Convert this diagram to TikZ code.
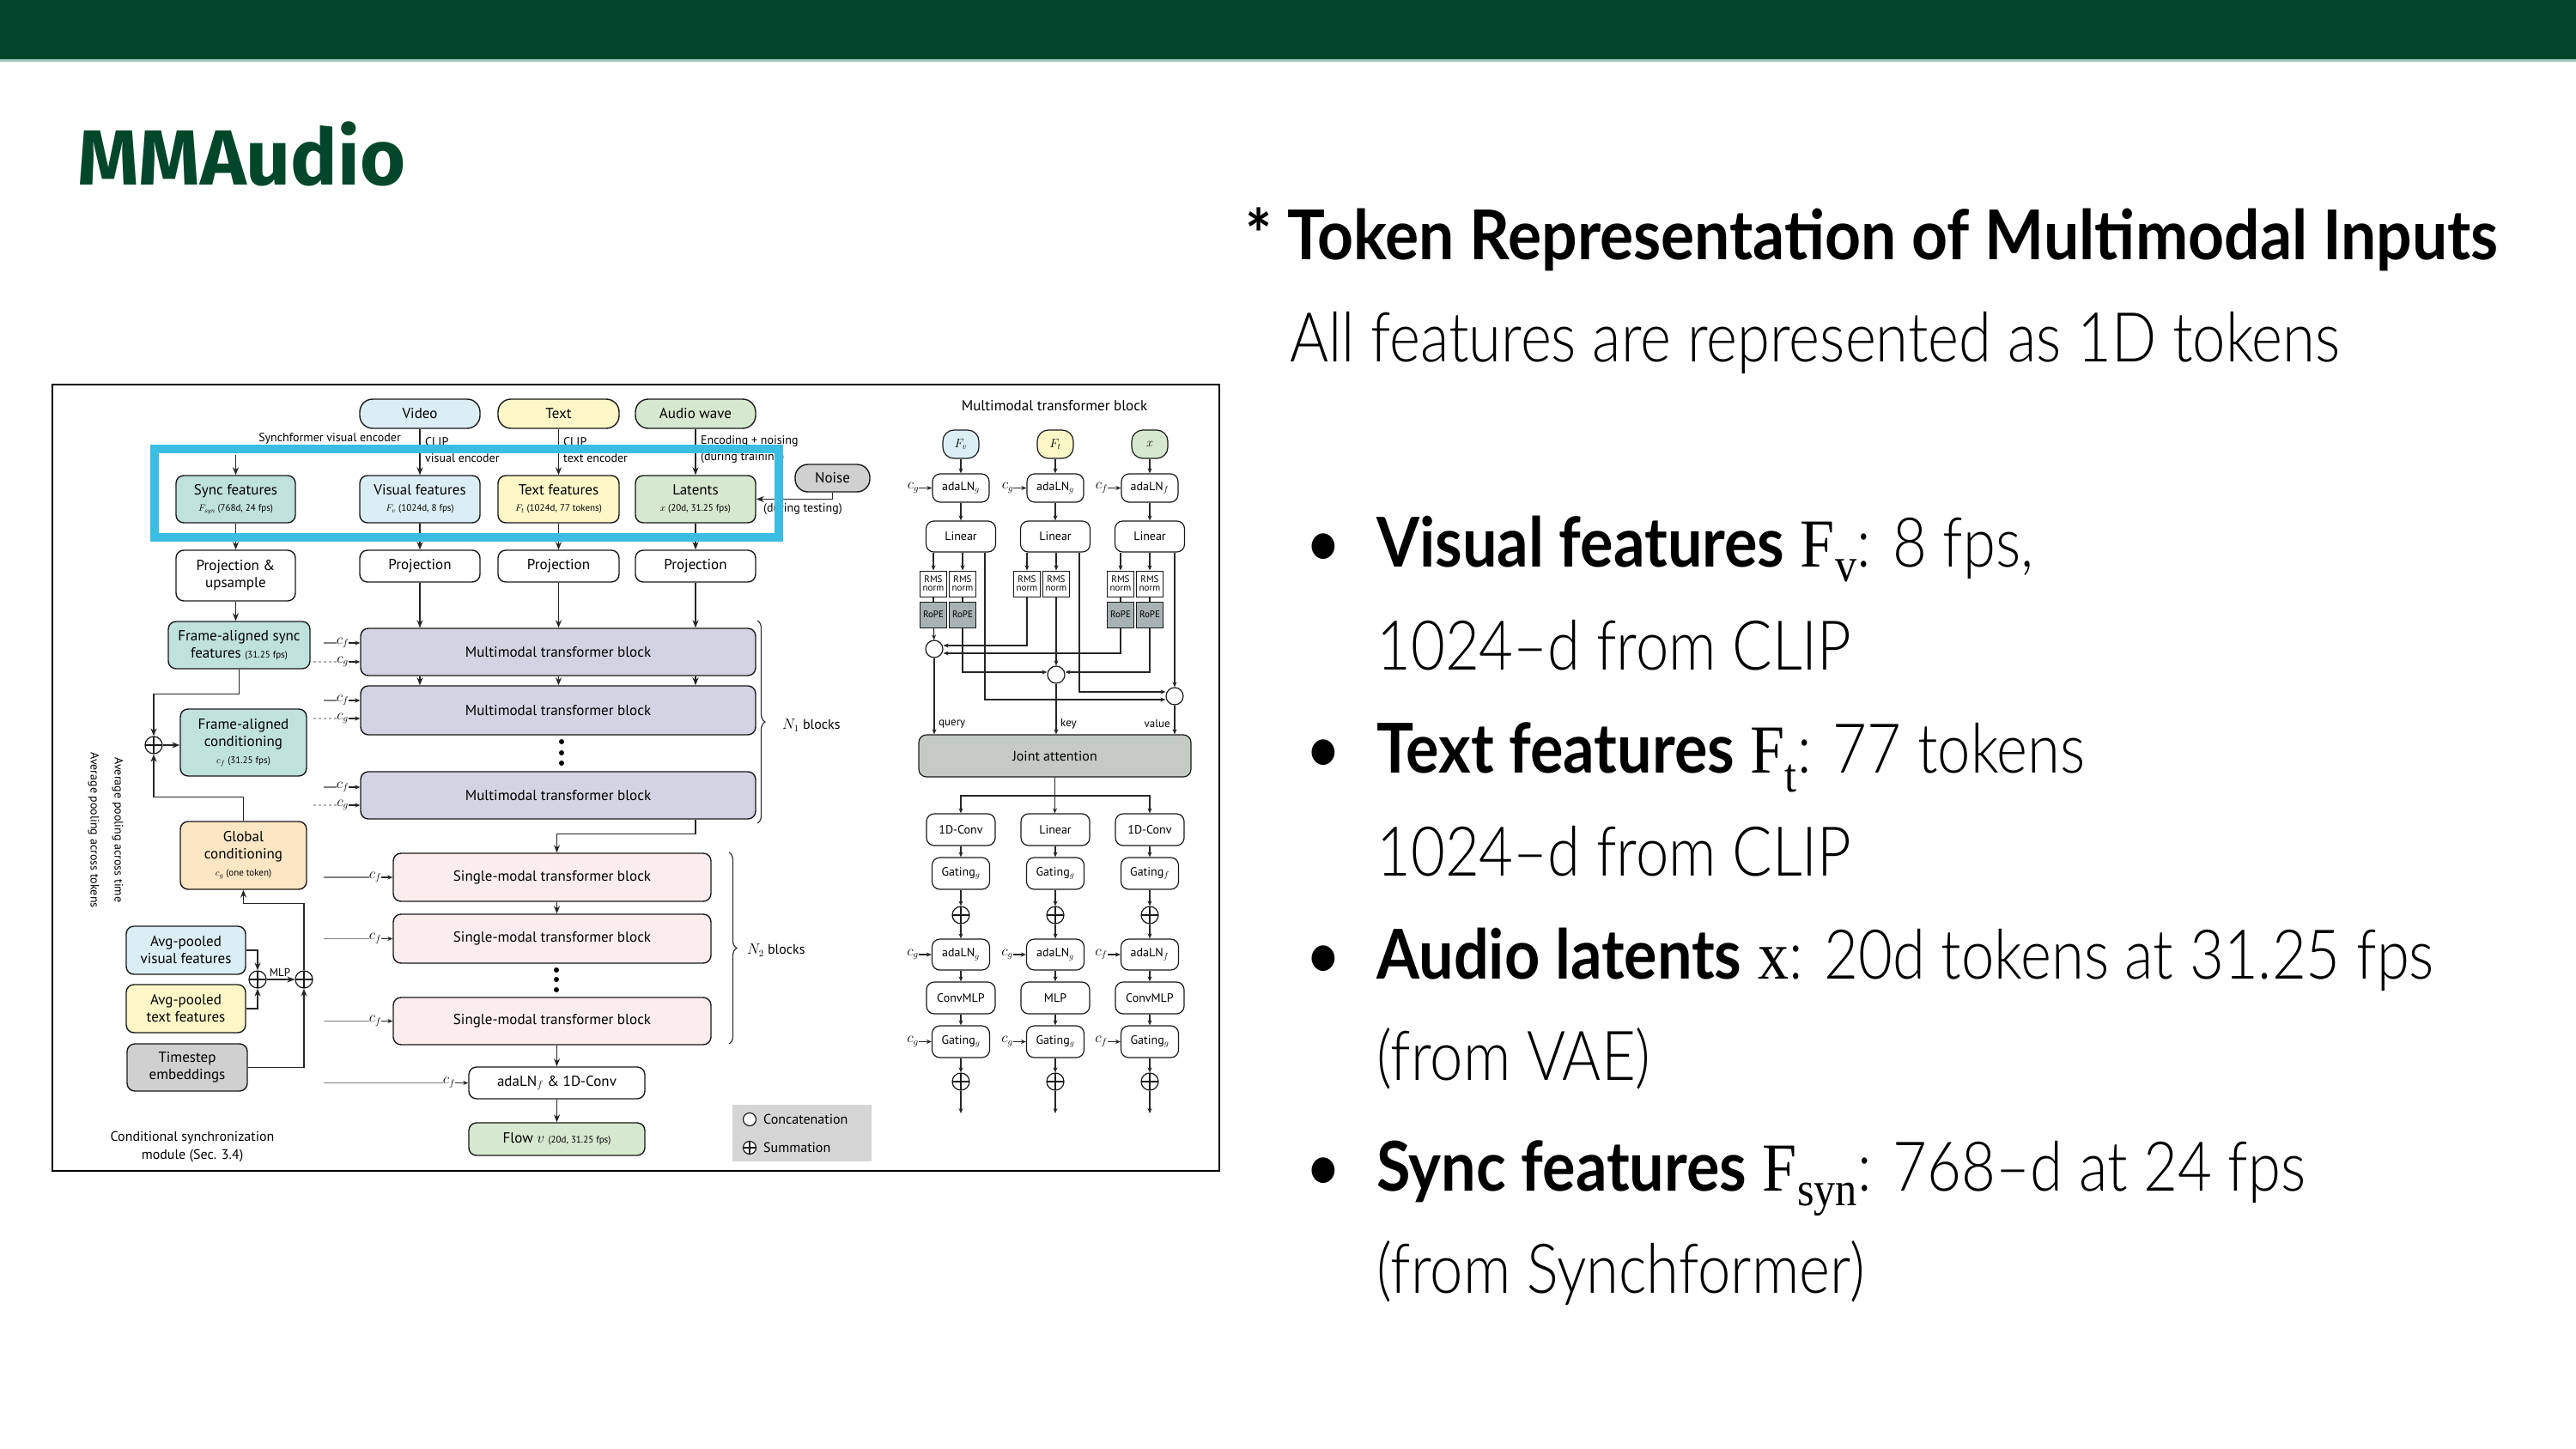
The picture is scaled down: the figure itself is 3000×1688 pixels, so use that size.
\documentclass[tikz,border=0pt]{standalone}
\usepackage{fontspec}
\usetikzlibrary{arrows.meta,decorations.pathreplacing,calc}
\newfontfamily\dg{PT Sans}
\newfontfamily\sldr[FakeStretch=0.86]{Lato Light}
\newfontfamily\sldb[FakeStretch=0.90]{Lato}
\newfontfamily\sldh[FakeStretch=0.915]{Lato}
\newfontfamily\ttl{Fira Sans}
\newfontfamily\srf[FakeStretch=0.9]{Liberation Serif}
\newcommand\fsz[2]{\fontsize{#1}{#2}\selectfont}
\newcommand\sml{\fontsize{11}{13}\selectfont}
\newcommand\sv[2]{{\srf #1\textsubscript{#2}}}
\newcommand\bt[1]{{\sldb\bfseries #1}}
\definecolor{dgreen}{RGB}{3,71,43}
\definecolor{cbarline}{RGB}{160,200,190}
\definecolor{cteal}{RGB}{192,226,221}
\definecolor{cblue}{RGB}{220,238,245}
\definecolor{cyel}{RGB}{253,247,200}
\definecolor{cgrn}{RGB}{214,232,207}
\definecolor{clav}{RGB}{212,211,227}
\definecolor{cpink}{RGB}{251,237,237}
\definecolor{corg}{RGB}{253,230,196}
\definecolor{cgray}{RGB}{208,208,208}
\definecolor{crope}{RGB}{168,178,178}
\definecolor{cjoint}{RGB}{195,203,195}
\definecolor{clegend}{RGB}{213,213,213}
\definecolor{chl}{RGB}{59,189,227}
\pgfdeclarelayer{bg}
\pgfsetlayers{bg,main}
\tikzset{
 bx/.style={draw=black!90, line width=1.4pt, rounded corners=9pt, align=center, inner sep=0pt, font=\dg\fsz{17}{20}},
 pill/.style={bx, rounded corners=15pt},
 sbx/.style={draw=black!90, line width=1.2pt, rounded corners=9pt, align=center, inner sep=0pt, fill=white, font=\dg\fsz{14}{16}},
 rmsb/.style={draw=black!90, line width=1pt, align=center, inner sep=0pt, minimum width=31pt, minimum height=30pt, fill=white, font=\dg\fsz{11}{10}},
 ropeb/.style={rmsb, fill=crope},
 arr/.style={-{Stealth[length=9pt,width=7pt]}, line width=1.3pt, draw=black!85},
 sarr/.style={-{Stealth[length=6pt,width=5pt]}, line width=1.1pt, draw=black!85},
 sline/.style={line width=1.1pt, draw=black!85},
 gline/.style={line width=1.3pt, draw=black!50},
 garr/.style={gline, -{Stealth[length=9pt,width=7pt]}},
 lline/.style={line width=1.2pt, draw=black!30},
 larr/.style={lline, -{Stealth[length=6pt,width=5pt]}},
 sumc/.style={circle, draw=black!90, line width=1.2pt, fill=white, minimum size=20pt, inner sep=0pt, path picture={\draw[line width=1.2pt] (path picture bounding box.north) -- (path picture bounding box.south) (path picture bounding box.east) -- (path picture bounding box.west);}},
 catc/.style={circle, draw=black!90, line width=1.2pt, fill=white, minimum size=20pt, inner sep=0pt, path picture={\fill (path picture bounding box.center) circle (3.2pt);}},
 anno/.style={font=\dg\fsz{14}{19}, inner sep=0pt},
 clab/.style={font=\fsz{16}{18}, inner sep=0pt},
 dotn/.style={circle, fill=black, minimum size=6pt, inner sep=0pt},
 st/.style={anchor=base west, inner sep=0pt, font=\sldr\fsz{80}{90}},
}
\begin{document}
\begin{tikzpicture}[x=1pt,y=-1pt]
\useasboundingbox (0,0) rectangle (3000,1688);
\fill[white] (0,0) rectangle (3000,1688);
\fill[dgreen] (0,0) rectangle (3000,69);
\fill[cbarline] (0,69) rectangle (3000,72);

% ---------- slide text ----------
\node[anchor=base west, inner sep=0pt, text=dgreen, font=\ttl\bfseries\fsz{91}{100}] (title) at (90,216) {MMAudio};
\node[st, font=\sldh\bfseries\fsz{80}{90}] (hd) at (1450,302) {* Token Representation of Multimodal Inputs};
\node[st] (sub) at (1502,421) {All features are represented as 1D tokens};
\foreach \y/\n in {660/1,900/3,1140/5,1387/7}{\node[anchor=base, inner sep=0pt, font=\sldb\fsz{80}{90}] (bul\n) at (1541,\y) {•};}
\node[st] (t1) at (1603,660) {\bt{Visual features} \sv{F}{v}: 8 fps,};
\node[st] (t2) at (1603,780) {1024–d from CLIP};
\node[st] (t3) at (1603,900) {\bt{Text features} \sv{F}{t}: 77 tokens};
\node[st] (t4) at (1603,1020) {1024–d from CLIP};
\node[st] (t5) at (1603,1140) {\bt{Audio latents} {\srf x}: 20d tokens at 31.25 fps};
\node[st] (t6) at (1603,1258) {(from VAE)};
\node[st] (t7) at (1603,1387) {\bt{Sync features} \sv{F}{syn}: 768–d at 24 fps};
\node[st] (t8) at (1603,1506) {(from Synchformer)};

% ---------- diagram frame ----------
\draw[line width=2pt] (61,448) rectangle (1420,1364);

% inputs
\node[pill, fill=cblue, minimum width=140pt, minimum height=34pt] (video) at (489,482) {Video};
\node[pill, fill=cyel, minimum width=141pt, minimum height=34pt] (textin) at (650.5,482) {Text};
\node[pill, fill=cgrn, minimum width=140pt, minimum height=34pt] (audio) at (810,482) {Audio wave};

% features
\node[bx, fill=cteal, minimum width=139pt, minimum height=55pt] (sync) at (274.5,581.5) {Sync features\\[-1pt]{\sml $F_{\mathit{syn}}$ (768d, 24 fps)}};
\node[bx, fill=cblue, minimum width=140pt, minimum height=55pt] (visf) at (489,581.5) {Visual features\\[-1pt]{\sml $F_v$ (1024d, 8 fps)}};
\node[bx, fill=cyel, minimum width=141pt, minimum height=55pt] (txtf) at (650.5,581.5) {Text features\\[-1pt]{\sml $F_t$ (1024d, 77 tokens)}};
\node[bx, fill=cgrn, minimum width=140pt, minimum height=55pt] (lat) at (810,581.5) {Latents\\[-1pt]{\sml $x$ (20d, 31.25 fps)}};
\node[pill, fill=cgray, minimum width=87pt, minimum height=32pt] (noise) at (969.5,557) {Noise};

% projections
\node[bx, fill=white, minimum width=139pt, minimum height=59pt] (projs) at (274.5,670.5) {Projection \&\\upsample};
\node[bx, fill=white, minimum width=140pt, minimum height=37pt] (projv) at (489,659.5) {Projection};
\node[bx, fill=white, minimum width=141pt, minimum height=37pt] (projt) at (650.5,659.5) {Projection};
\node[bx, fill=white, minimum width=140pt, minimum height=37pt] (proja) at (810,659.5) {Projection};

% conditioning module
\node[bx, fill=cteal, minimum width=165pt, minimum height=55pt] (fas) at (278.5,751.5) {Frame-aligned sync\\features {\sml (31.25 fps)}};
\node[bx, fill=cteal, minimum width=147pt, minimum height=78pt] (fac) at (283.5,865) {Frame-aligned\\conditioning\\{\sml $c_f$ (31.25 fps)}};
\node[bx, fill=corg, minimum width=147pt, minimum height=79pt] (gc) at (283.5,996.5) {Global\\conditioning\\{\sml $c_g$ (one token)}};
\node[sumc] (s1) at (179,868) {};
\node[bx, fill=cblue, minimum width=139pt, minimum height=56pt] (apv) at (216.5,1107) {Avg-pooled\\visual features};
\node[bx, fill=cyel, minimum width=139pt, minimum height=56pt] (apt) at (216.5,1175) {Avg-pooled\\text features};
\node[bx, fill=cgray, minimum width=140pt, minimum height=55pt] (ts) at (218,1243.5) {Timestep\\embeddings};
\node[sumc] (s2) at (300,1141) {};
\node[sumc] (s3) at (354,1141) {};

% transformer stacks
\node[bx, fill=clav, minimum width=460pt, minimum height=55pt] (mm1) at (650,759.5) {Multimodal transformer block};
\node[bx, fill=clav, minimum width=460pt, minimum height=57pt] (mm2) at (650,827.5) {Multimodal transformer block};
\node[bx, fill=clav, minimum width=460pt, minimum height=55pt] (mm3) at (650,926.5) {Multimodal transformer block};
\node[dotn] (md1) at (654,864) {};
\node[dotn] (md2) at (654,877) {};
\node[dotn] (md3) at (654,889) {};
\node[bx, fill=cpink, minimum width=370pt, minimum height=56pt] (sm1) at (643,1022) {Single-modal transformer block};
\node[bx, fill=cpink, minimum width=370pt, minimum height=57pt] (sm2) at (643,1093.5) {Single-modal transformer block};
\node[bx, fill=cpink, minimum width=370pt, minimum height=55pt] (sm3) at (643,1189.5) {Single-modal transformer block};
\node[dotn] (sd1) at (648,1130) {};
\node[dotn] (sd2) at (648,1141) {};
\node[dotn] (sd3) at (648,1153) {};
\node[bx, fill=white, minimum width=205pt, minimum height=37pt] (ada) at (648.5,1261.5) {adaLN$_f$ \& 1D-Conv};
\node[bx, fill=cgrn, minimum width=205pt, minimum height=38pt] (flow) at (648.5,1327) {Flow $v$ {\sml (20d, 31.25 fps)}};

\draw[decorate, decoration={brace, amplitude=9pt}, line width=1.2pt, black!80] (882,723) -- (882,959);
\draw[decorate, decoration={brace, amplitude=9pt}, line width=1.2pt, black!80] (849,993) -- (849,1216);
\node[anchor=west, inner sep=0pt, font=\dg\fsz{16}{18}] (n1) at (911,845) {$N_1$ blocks};
\node[anchor=west, inner sep=0pt, font=\dg\fsz{16}{18}] (n2) at (870,1107) {$N_2$ blocks};

% legend
\node[fill=clegend, minimum width=162pt, minimum height=66pt, inner sep=0pt] (leg) at (934,1320) {};
\node[catc, minimum size=15pt] (lc) at (873,1304) {};
\node[anchor=west, inner sep=0pt, font=\dg\fsz{16}{18}] (lct) at (889,1304) {Concatenation};
\node[sumc, minimum size=15pt] (ls) at (873,1337) {};
\node[anchor=west, inner sep=0pt, font=\dg\fsz{16}{18}] (lst) at (889,1337) {Summation};

% annotations
\node[anno, anchor=east] (synlab) at (467,511) {Synchformer visual encoder};
\node[anno, anchor=west, align=left] (clip1) at (495,524) {CLIP\\visual encoder};
\node[anno, anchor=west, align=left] (clip2) at (656,524) {CLIP\\text encoder};
\node[anno, anchor=west, align=left] (enc) at (816,524) {Encoding + noising\\(during training)};
\node[anno, anchor=west] (testlab) at (889,593) {(during testing)};
\node[anno, font=\dg\fsz{13}{15}] (mlplab) at (326,1133) {MLP};
\node[anno, rotate=-90] (vt1) at (109,967) {Average pooling across tokens};
\node[anno, rotate=-90] (vt2) at (137,967) {Average pooling across time};
\node[font=\dg\fsz{16}{21}, align=center, inner sep=0pt] (csm) at (224,1336) {Conditional synchronization\\module (Sec. 3.4)};

% main arrows
\coordinate (synsrc) at (274.5,530);
\draw[arr] (synsrc) -- (sync);
\draw[arr] (video) -- (visf);
\draw[arr] (textin) -- (txtf);
\draw[arr] (audio) -- (lat);
\draw[arr] (noise.south) |- (lat.east);
\draw[arr] (sync) -- (projs);
\draw[arr] (visf) -- (projv);
\draw[arr] (txtf) -- (projt);
\draw[arr] (lat) -- (proja);
\draw[arr] (projs.south) -- (projs.south |- fas.north);
\draw[arr] (projv) -- (projv |- mm1.north);
\draw[arr] (projt) -- (projt |- mm1.north);
\draw[arr] (proja) -- (proja |- mm1.north);
\foreach \c in {projv,projt,proja}{\draw[arr] (mm1.south -| \c) -- (mm2.north -| \c);}
\draw[arr] (mm3.south -| proja) -- ++(0,17) -| (ada |- sm1.north);
\draw[arr] (sm1.south -| ada) -- (sm2.north -| ada);
\draw[arr] (sm3.south -| ada) -- (ada);
\draw[arr] (ada) -- (flow);

% conditioning arrows
\draw[arr] (fas.south) -- ++(0,29) -| (s1.north);
\draw[arr] (gc.north) -- ++(0,-28) -| (s1.south);
\draw[arr] (s1.east) -- (s1.east -| fac.west);
\draw[arr] (s3.north) -- ++(0,-78) -| (gc.south);
\draw[arr] (apv.east) -| (s2.north);
\draw[arr] (apt.east) -| (s2.south);
\draw[arr] (s2) -- (s3);
\draw[arr] (ts.east) -| (s3.south);

% gray pooling lines
\begin{pgfonlayer}{bg}
\coordinate (tb) at (650.5,691);
\coordinate (vb) at (489,705);
\draw[garr] (tb) -- (379,691) -- (379,626) -- (97,626) |- (apt.west);
\draw[garr] (vb) -- (125,705) |- (apv.west);
\draw[gline] (fac.east) -- (377,865);
\draw[gline] (377,749) -- (377,1261.5);
\draw[lline] (gc.east) -- (365,996.5) -- (365,771);
\draw[lline] (89,1278) -- (89,1298) -- (361,1298) -- (361,1278);
\draw[lline] (224,1298) -- (224,1312);
\draw[gline, black!40] (mm1.east |- 0,747) -- (1032,747) -- (1032,487) -- (1047,487);
\draw[gline, black!40] (mm1.east |- 0,771) -- (1032,771) -- (1032,1315) -- (1045,1315);
\end{pgfonlayer}

% c_f / c_g inputs
\foreach \yf/\yg/\b/\n in {749/771/mm1/1, 816/837/mm2/2, 917/938/mm3/3}{
  \node[clab] (cf\n) at (399,\yf) {$c_f$};
  \draw[sarr] (cf\n.east) -- (cf\n.east -| \b.west);
  \draw[gline] (377,\yf) -- (cf\n.west);
  \node[clab] (cg\n) at (399,\yg) {$c_g$};
  \draw[sarr] (cg\n.east) -- (cg\n.east -| \b.west);
  \draw[lline, dashed] (365,\yg) -- (cg\n.west);
}
\foreach \y/\b/\n in {1022/sm1/4, 1093.5/sm2/5, 1189.5/sm3/6}{
  \node[clab] (cf\n) at (437,\y) {$c_f$};
  \draw[sarr] (cf\n.east) -- (cf\n.east -| \b.west);
  \draw[gline] (377,\y) -- (cf\n.west);
}
\node[clab] (cf7) at (523,1261.5) {$c_f$};
\draw[sarr] (cf7.east) -- (cf7.east -| ada.west);
\draw[gline] (377,1261.5) -- (cf7.west);

% highlight
\draw[chl, line width=10pt] (180,523) rectangle (907,626);

% ---------- detail panel ----------
\node[font=\dg\fsz{17}{20}, inner sep=0pt] (dtitle) at (1228,473) {Multimodal transformer block};
\node[sbx, fill=cblue, rounded corners=13pt, minimum width=42pt, minimum height=33pt] (pv) at (1119,517.5) {$F_v$};
\node[sbx, fill=cyel, rounded corners=13pt, minimum width=42pt, minimum height=33pt] (pt) at (1229,517.5) {$F_t$};
\node[sbx, fill=cgrn, rounded corners=13pt, minimum width=42pt, minimum height=33pt] (px) at (1339,517.5) {$x$};
\node[sbx, minimum width=66pt, minimum height=33pt] (a1) at (1119,568.5) {adaLN$_g$};
\node[sbx, minimum width=66pt, minimum height=33pt] (a2) at (1229,568.5) {adaLN$_g$};
\node[sbx, minimum width=66pt, minimum height=33pt] (a3) at (1339,568.5) {adaLN$_f$};
\node[sbx, minimum width=81pt, minimum height=36pt] (l1) at (1119,625) {Linear};
\node[sbx, minimum width=81pt, minimum height=36pt] (l2) at (1229,625) {Linear};
\node[sbx, minimum width=81pt, minimum height=36pt] (l3) at (1339,625) {Linear};
\foreach \n/\x in {1a/1087,1b/1121,2a/1196,2b/1230,3a/1305,3b/1339}{
  \node[rmsb] (r\n) at (\x,680) {RMS\\norm};
}
\foreach \n/\x in {1a/1087,1b/1121,3a/1305,3b/1339}{
  \node[ropeb] (p\n) at (\x,716) {RoPE};
  \draw[sline] (r\n) -- (p\n);
}
\foreach \n in {1a,1b}{\draw[sarr] (l1.south -| r\n) -- (r\n);}
\foreach \n in {2a,2b}{\draw[sarr] (l2.south -| r\n) -- (r\n);}
\foreach \n in {3a,3b}{\draw[sarr] (l3.south -| r\n) -- (r\n);}
\draw[sarr] (pv) -- (a1); \draw[sarr] (pt) -- (a2); \draw[sarr] (px) -- (a3);
\draw[sarr] (a1) -- (l1); \draw[sarr] (a2) -- (l2); \draw[sarr] (a3) -- (l3);
\foreach \n/\s in {a1/g,a2/g,a3/f}{
  \node[clab, anchor=east] (c\n) at ([xshift=-15pt]\n.west) {$c_\s$};
  \draw[sarr] (c\n.east) -- (\n.west);
}
\node[catc] (cq) at (1088,756) {};
\node[catc] (ck) at (1230,786) {};
\node[catc] (cv) at (1368,811) {};
\node[sbx, fill=cjoint, minimum width=317pt, minimum height=49pt, font=\dg\fsz{16}{18}] (ja) at (1228.5,880.5) {Joint attention};
\draw[sarr] (p1a) -- (cq);
\draw[sarr] (r2a.south) |- ([yshift=4pt]cq.east);
\draw[sarr] (p3a.south) |- ([yshift=-5pt]cq.east);
\draw[sarr] (p1b.south) |- ([yshift=3pt]ck.west);
\draw[sarr] (p3b.south) |- ([yshift=3pt]ck.east);
\draw[sarr] (r2b) -- (ck);
\draw[sarr] ([xshift=28pt]l1.south) |- ([yshift=-4pt]cv.west);
\draw[sarr] ([xshift=28pt]l2.south) |- ([yshift=5pt]cv.west);
\draw[sarr] (l3.south -| cv) -- (cv);
\draw[sarr] (cq) -- (cq |- ja.north);
\draw[sarr] (ck) -- (ck |- ja.north);
\draw[sarr] (cv) -- (cv |- ja.north);
\node[anno, font=\dg\fsz{13}{15}, anchor=west] (ql) at (1093,843) {query};
\node[anno, font=\dg\fsz{13}{15}, anchor=west] (kl) at (1235,843) {key};
\node[anno, font=\dg\fsz{13}{15}, anchor=east] (vl) at (1363,843) {value};

% lower part
\foreach \i/\x/\ca/\cb/\ga/\gb/\gc in {1/1119/1D-Conv/ConvMLP/g/g/g, 2/1229/Linear/MLP/g/g/g, 3/1339/1D-Conv/ConvMLP/f/f/g}{
  \node[sbx, minimum width=80pt, minimum height=37pt] (c\i) at (\x,966.5) {\ca};
  \node[sbx, minimum width=67pt, minimum height=37pt] (g\i) at (\x,1017.5) {Gating$_\ga$};
  \node[sumc] (u\i) at (\x,1066) {};
  \node[sbx, minimum width=67pt, minimum height=36pt] (b\i) at (\x,1112) {adaLN$_\gb$};
  \node[sbx, minimum width=80pt, minimum height=37pt] (m\i) at (\x,1162.5) {\cb};
  \node[sbx, minimum width=67pt, minimum height=37pt] (h\i) at (\x,1213.5) {Gating$_\gc$};
  \node[sumc] (v\i) at (\x,1260) {};
  \coordinate (o\i) at (\x,1297);
  \draw[sarr] (c\i) -- (g\i);
  \draw[sarr] (g\i) -- (u\i);
  \draw[sarr] (u\i) -- (b\i);
  \draw[sarr] (b\i) -- (m\i);
  \draw[sarr] (m\i) -- (h\i);
  \draw[sarr] (h\i) -- (v\i);
  \draw[sarr] (v\i) -- (o\i);
  \node[clab, anchor=east] (cb\i) at ([xshift=-15pt]b\i.west) {$c_\gb$};
  \draw[sarr] (cb\i.east) -- (b\i.west);
}
\foreach \i/\s in {1/g,2/g,3/f}{
  \node[clab, anchor=east] (ch\i) at ([xshift=-15pt]h\i.west) {$c_\s$};
  \draw[sarr] (ch\i.east) -- (h\i.west);
}
\coordinate (jsplit) at (1228.5,927);
\draw[sarr] (ja.south) -- (ja.south |- c2.north);
\draw[sarr] (jsplit) -| (c1.north);
\draw[sarr] (jsplit) -| (c3.north);

% residual lines
\begin{pgfonlayer}{bg}
\foreach \i/\x/\rx in {1/1119/1051, 2/1229/1165, 3/1339/1275}{
  \coordinate (rt\i) at (\x,537);
  \coordinate (rc\i) at (\rx,537);
  \coordinate (ru\i) at (\rx,1066);
  \coordinate (rv\i) at (\rx,1260);
  \draw[lline] (rt\i) -- (rc\i) -- (rv\i);
  \draw[larr] (ru\i) -- (u\i.west);
  \draw[larr] (rv\i) -- (v\i.west);
}
\end{pgfonlayer}
\end{tikzpicture}
\end{document}
